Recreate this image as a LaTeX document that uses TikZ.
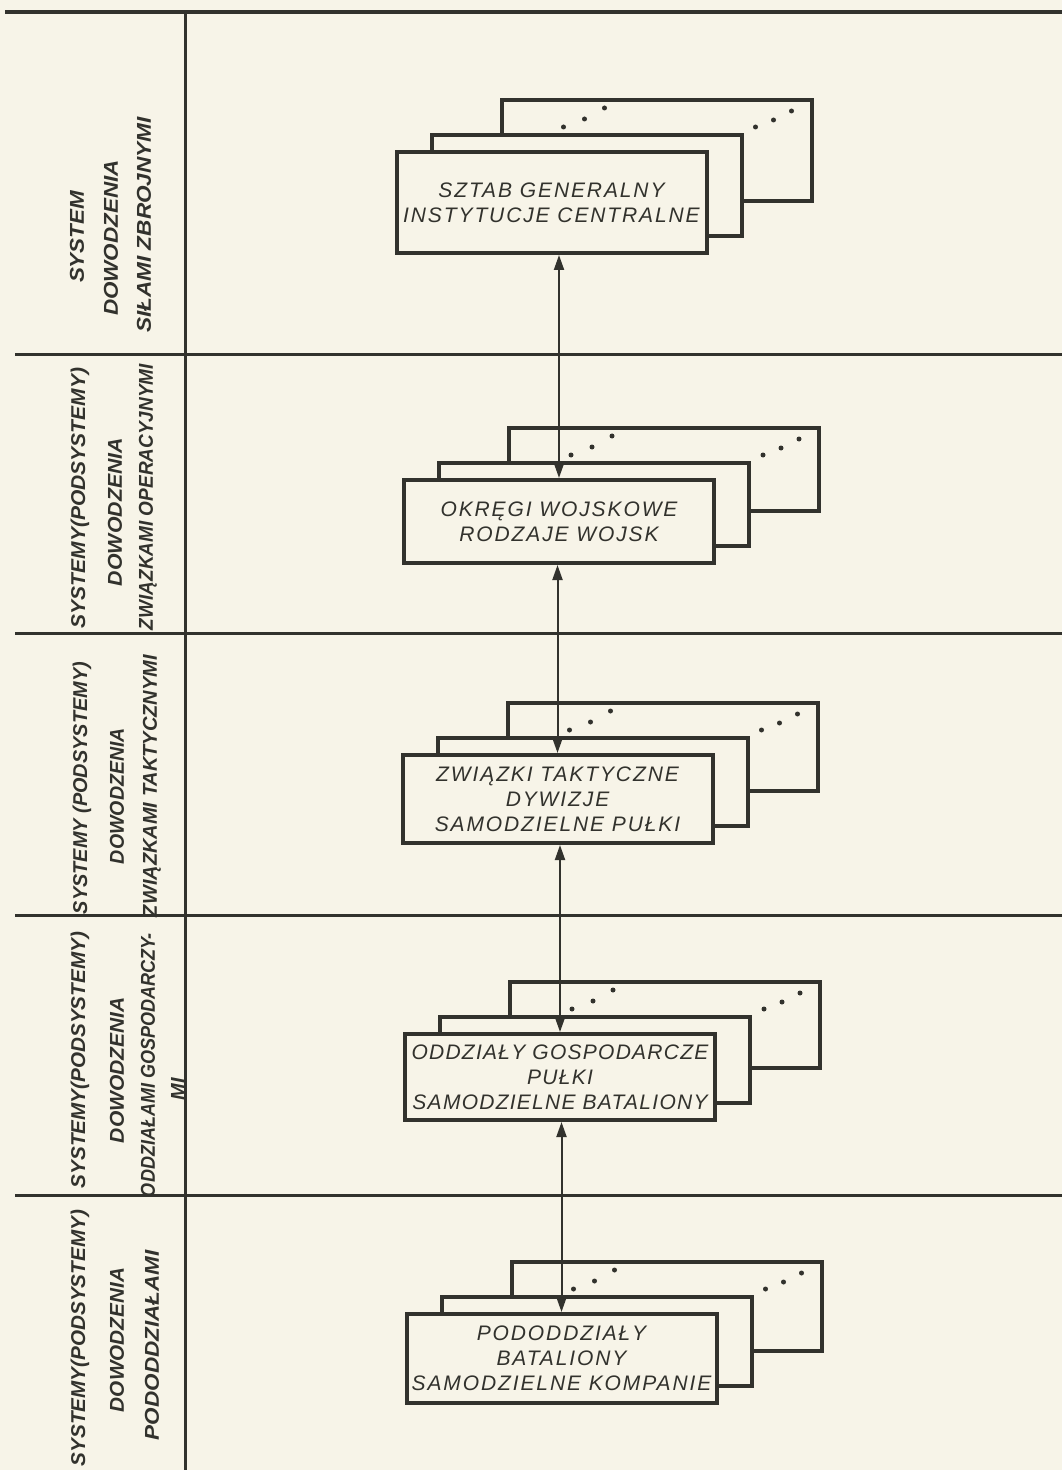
\documentclass[tikz,border=0pt]{standalone}
\usepackage{fontspec}
\setmainfont{Liberation Sans}
\newfontfamily\hand[LetterSpace=9]{Liberation Sans}
\usepackage{xcolor}
\usetikzlibrary{positioning,calc,arrows.meta}
\definecolor{paper}{RGB}{247,244,232}
\definecolor{ink}{RGB}{50,50,45}
\newcommand{\lw}[2]{\resizebox{#1}{\height}{#2}}

\begin{document}
\begin{tikzpicture}[x=0.5pt,y=-0.5pt,
    card/.style={draw=ink, line width=2pt, fill=paper, minimum width=155pt, inner sep=0pt,
      font=\hand\itshape\fontsize{10.5}{12.5}\selectfont, align=center, text=ink},
    lbl/.style={rotate=90, inner sep=0pt, font=\bfseries\itshape\fontsize{10}{12}\selectfont, text=ink},
    link/.style={draw=ink, line width=1pt, {Triangle[length=7.5pt,width=5pt]}-{Triangle[length=7.5pt,width=5pt]}}]
    \useasboundingbox (0,0) rectangle (1062,1470);
    \fill[paper] (0,0) rectangle (1062,1470);

    % table lines
    \draw[ink, line width=2pt] (5,12) -- (1062,12);
    \draw[ink, line width=1.5pt] (185,12) -- (185,1470);
    \foreach \y in {355,633,915,1195} \draw[ink, line width=1.5pt] (15,\y) -- (1062,\y);

    % level labels
    \node[lbl] (s1a) at (77,237) {\lw{46pt}{SYSTEM}};
    \node[lbl] (s1b) at (111,238) {\lw{78pt}{DOWODZENIA}};
    \node[lbl] (s1c) at (144,225) {\lw{108pt}{SIŁAMI ZBROJNYMI}};

    \node[lbl] (s2a) at (80,498) {\lw{130pt}{SYSTEMY(PODSYSTEMY)}};
    \node[lbl] (s2b) at (115,512) {\lw{74pt}{DOWODZENIA}};
    \node[lbl] (s2c) at (148,497) {\lw{133pt}{ZWIĄZKAMI OPERACYJNYMI}};

    \node[lbl] (s3a) at (82,788) {\lw{126pt}{SYSTEMY (PODSYSTEMY)}};
    \node[lbl] (s3b) at (117,796) {\lw{68pt}{DOWODZENIA}};
    \node[lbl] (s3c) at (152,786) {\lw{131pt}{ZWIĄZKAMI TAKTYCZNYMI}};

    \node[lbl] (s4a) at (80,1060) {\lw{128pt}{SYSTEMY(PODSYSTEMY)}};
    \node[lbl] (s4b) at (117,1070) {\lw{73pt}{DOWODZENIA}};
    \node[lbl] (s4c) at (148,1065) {\lw{132pt}{ODDZIAŁAMI GOSPODARCZY-}};
    \node[lbl] (s4d) at (178,1089) {MI};

    \node[lbl] (s5a) at (80,1338) {\lw{128pt}{SYSTEMY(PODSYSTEMY)}};
    \node[lbl] (s5b) at (117,1340) {\lw{72pt}{DOWODZENIA}};
    \node[lbl] (s5c) at (152,1345) {\lw{95pt}{PODODDZIAŁAMI}};

    % card stacks
    \foreach \n/\cx/\cy/\h/\txt in {
        1/551.5/202.5/105/{SZTAB GENERALNY\\INSTYTUCJE CENTRALNE},
        2/559/521.5/87/{OKRĘGI WOJSKOWE\\RODZAJE WOJSK},
        3/557.5/799/92/{ZWIĄZKI TAKTYCZNE\\DYWIZJE\\SAMODZIELNE PUŁKI},
        4/560/1077/90/{\addfontfeature{LetterSpace=6}ODDZIAŁY GOSPODARCZE\\\addfontfeature{LetterSpace=6}PUŁKI\\\addfontfeature{LetterSpace=6}SAMODZIELNE BATALIONY},
        5/561.5/1358.5/93/{PODODDZIAŁY\\BATALIONY\\SAMODZIELNE KOMPANIE}}{
      \node[card, minimum height={(\h-4)*0.5pt}] (b\n) at (\cx+105,\cy-52) {};
      \foreach \dx/\dy in {64/29, 85/21, 105/10, 256/29, 274/22, 292/13}
        \fill[ink] ($(b\n.north west)+(\dx,\dy)$) circle (2.5);
      \node[card, minimum height={(\h-4)*0.5pt}] (m\n) at (\cx+35,\cy-17) {};
      \node[card, minimum height={(\h-4)*0.5pt}] (f\n) at (\cx,\cy) {\txt};
    }

    % links
    \foreach \a/\b in {1/2, 2/3, 3/4, 4/5}
      \draw[link] (f\a.south -| f\b.north) -- (f\b.north);
\end{tikzpicture}
\end{document}
